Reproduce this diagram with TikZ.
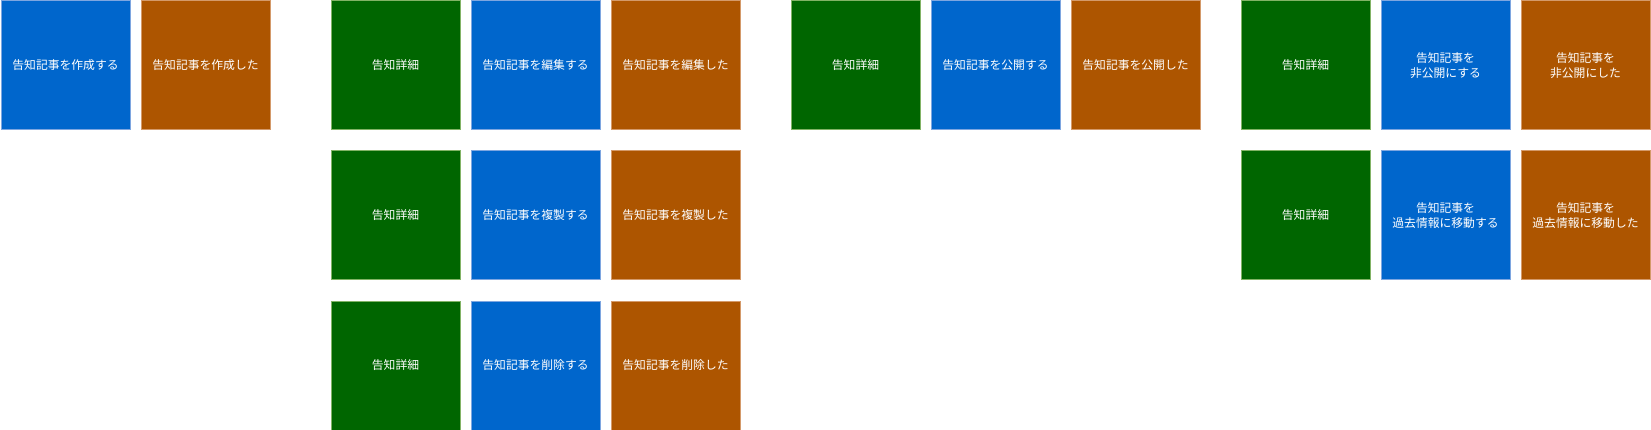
\documentclass[tikz,border=0pt]{standalone}
\usepackage{fontspec}
\setmainfont{Noto Sans CJK JP}
\definecolor{bfill}{HTML}{0066CC}
\definecolor{bline}{HTML}{7EA6E0}
\definecolor{gfill}{HTML}{006600}
\definecolor{gline}{HTML}{82B366}
\definecolor{ofill}{HTML}{AD5500}
\definecolor{oline}{HTML}{D49A6A}
\tikzset{
  card/.style={minimum width=129pt,minimum height=129pt,inner sep=0pt,anchor=north west,
    line width=1pt,text=white,align=center,font=\fontsize{11.8pt}{15pt}\selectfont},
  actbox/.style={card,fill=bfill,draw=bline},
  detbox/.style={card,fill=gfill,draw=gline},
  donebox/.style={card,fill=ofill,draw=oline}
}
\begin{document}
\begin{tikzpicture}[x=1pt,y=-1pt]
\useasboundingbox (0,0) rectangle (1651,430);
% group 1
\node[actbox] (a1) at (0.5,0.5) {告知記事を作成する};
\node[donebox] (a2) at (140.5,0.5) {告知記事を作成した};
% group 2
\node[detbox] (b1) at (330.5,0.5) {告知詳細};
\node[actbox] (b2) at (470.5,0.5) {告知記事を編集する};
\node[donebox] (b3) at (610.5,0.5) {告知記事を編集した};
\node[detbox] (c1) at (330.5,150.5) {告知詳細};
\node[actbox] (c2) at (470.5,150.5) {告知記事を複製する};
\node[donebox] (c3) at (610.5,150.5) {告知記事を複製した};
\node[detbox] (d1) at (330.5,300.5) {告知詳細};
\node[actbox] (d2) at (470.5,300.5) {告知記事を削除する};
\node[donebox] (d3) at (610.5,300.5) {告知記事を削除した};
% group 3
\node[detbox] (e1) at (790.5,0.5) {告知詳細};
\node[actbox] (e2) at (930.5,0.5) {告知記事を公開する};
\node[donebox] (e3) at (1070.5,0.5) {告知記事を公開した};
% group 4
\node[detbox] (f1) at (1240.5,0.5) {告知詳細};
\node[actbox] (f2) at (1380.5,0.5) {告知記事を\\非公開にする};
\node[donebox] (f3) at (1520.5,0.5) {告知記事を\\非公開にした};
\node[detbox] (g1) at (1240.5,150.5) {告知詳細};
\node[actbox] (g2) at (1380.5,150.5) {告知記事を\\過去情報に移動する};
\node[donebox] (g3) at (1520.5,150.5) {告知記事を\\過去情報に移動した};
\end{tikzpicture}
\end{document}
